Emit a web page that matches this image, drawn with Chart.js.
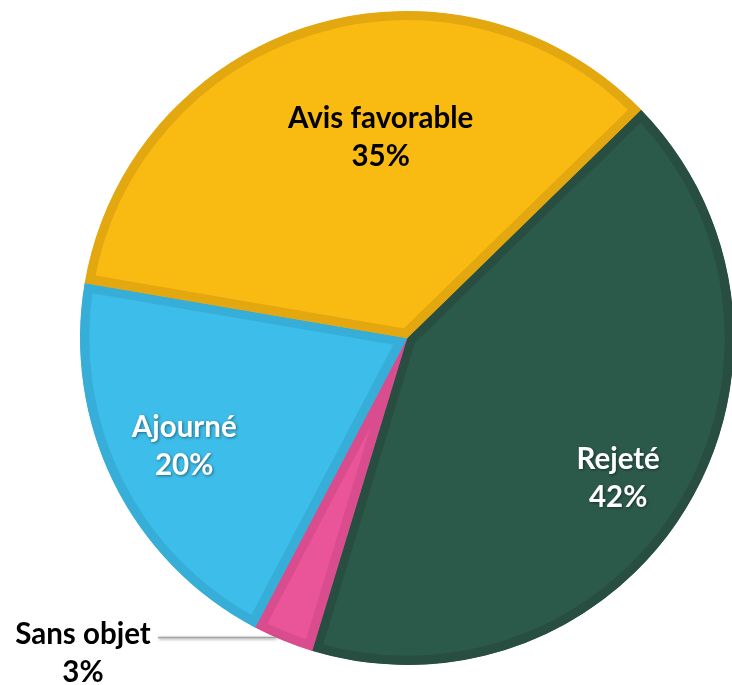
<!DOCTYPE html>
<html>
<head>
<meta charset="utf-8">
<script src="https://cdn.jsdelivr.net/npm/chart.js@4/dist/chart.umd.min.js"></script>
<style>
  html, body { margin: 0; padding: 0; background: #fff; overflow: hidden; }
  #wrap { position: absolute; left: 0; top: 0; }
</style>
</head>
<body>
<div id="wrap"><canvas id="pie" width="734" height="685"></canvas></div>
<script>
// Chart data
const categories = ['Rejeté', 'Sans objet', 'Ajourné', 'Avis favorable'];
const shares = [42, 3, 20, 35];
const percentLabels = ['42%', '3%', '20%', '35%'];

const fillColors = ['#2C5A4A', '#EA5499', '#3DBDE9', '#F9BA12'];
const edgeColors = ['#284E41', '#D94C8D', '#36AED8', '#E3A80F'];

// Draw the data labels (Excel-like, inside slices, one outside with a leader line)
const sliceLabels = {
  id: 'sliceLabels',
  afterDatasetsDraw(chart) {
    const ctx = chart.ctx;
    const meta = chart.getDatasetMeta(0);
    const style = [
      { color: '#fff', frac: 0.77, dx: -4, dy: 10, shadow: true },
      { color: '#000', outside: true },
      { color: '#fff', frac: 0.76, dx: 0, dy: -2, shadow: true },
      { color: '#000', frac: 0.60, dx: 32, dy: -13, shadow: false }
    ];
    ctx.save();
    ctx.font = 'bold 29.5px Lato, "Open Sans", sans-serif';
    ctx.textAlign = 'center';
    ctx.textBaseline = 'middle';
    meta.data.forEach((arc, i) => {
      const s = style[i];
      const mid = (arc.startAngle + arc.endAngle) / 2;
      let x, y;
      if (s.outside) {
        const r = arc.outerRadius;
        const ey = arc.y + Math.sin(mid) * r - 3;
        const ex = arc.x - Math.sqrt(r * r - (ey - arc.y) * (ey - arc.y));
        ctx.strokeStyle = '#A6A6A6';
        ctx.lineWidth = 1.5;
        ctx.beginPath();
        ctx.moveTo(ex, ey);
        ctx.lineTo(158, ey);
        ctx.stroke();
        x = 83;
        y = ey + 16;
      } else {
        x = arc.x + Math.cos(mid) * arc.outerRadius * s.frac + s.dx;
        y = arc.y + Math.sin(mid) * arc.outerRadius * s.frac + s.dy;
      }
      ctx.fillStyle = s.color;
      if (s.shadow) {
        ctx.shadowColor = 'rgba(0,0,0,0.45)';
        ctx.shadowBlur = 3;
        ctx.shadowOffsetX = 1;
        ctx.shadowOffsetY = 1;
      } else {
        ctx.shadowColor = 'transparent';
      }
      ctx.fillText(categories[i], x, y - 19);
      ctx.fillText(percentLabels[i], x, y + 19);
    });
    ctx.restore();
  }
};

new Chart(document.getElementById('pie'), {
  type: 'pie',
  data: {
    labels: categories,
    datasets: [{
      data: shares,
      backgroundColor: fillColors,
      borderColor: edgeColors,
      borderWidth: 9,
      borderAlign: 'inner'
    }]
  },
  options: {
    responsive: false,
    animation: false,
    rotation: 45.7,
    layout: { padding: { left: 80, right: 0, top: 11, bottom: 20 } },
    plugins: {
      legend: { display: false },
      tooltip: { enabled: false }
    }
  },
  plugins: [sliceLabels]
});
</script>
</body>
</html>
